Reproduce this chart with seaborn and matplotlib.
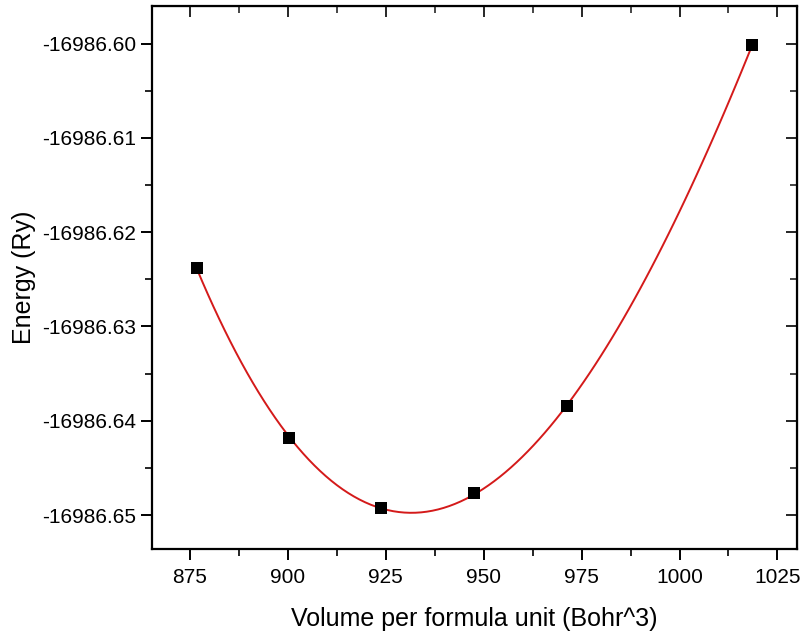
import numpy as np
import pandas as pd
import matplotlib
matplotlib.use("Agg")
import matplotlib.pyplot as plt
import seaborn as sns
from matplotlib.ticker import MultipleLocator, FormatStrFormatter

# values
volume = [876.7, 900.4, 923.9, 947.6, 971.3, 1018.6]
energy = [-16986.6238, -16986.6418, -16986.6493, -16986.6477, -16986.6384, -16986.6001]

x_ticks = [875, 900, 925, 950, 975, 1000, 1025]
y_ticks = [-16986.65, -16986.64, -16986.63, -16986.62, -16986.61, -16986.60]

df = pd.DataFrame({"volume": volume, "energy": energy})

sns.set_style("ticks")
plt.rcParams["font.family"] = ["Liberation Sans", "DejaVu Sans"]
plt.rcParams["text.color"] = "black"
plt.rcParams["axes.labelcolor"] = "black"

fig = plt.figure(figsize=(8.02, 6.42), dpi=100)
ax = fig.add_axes([0.1895, 0.1449, 0.8043, 0.8458])

# fitted curve (cubic fit of E(V)) and the computed points
sns.regplot(data=df, x="volume", y="energy", order=3, ci=None, scatter=False,
            line_kws={"color": "#d41a1a", "lw": 1.4}, ax=ax)
sns.scatterplot(data=df, x="volume", y="energy", marker="s", s=70,
                color="black", edgecolor="black", linewidth=0, zorder=3, ax=ax)

ax.set_xlim(865.3, 1030)
ax.set_ylim(-16986.6536, -16986.5960)
ax.set_xticks(x_ticks)
ax.set_yticks(y_ticks)
ax.xaxis.set_minor_locator(MultipleLocator(12.5))
ax.yaxis.set_minor_locator(MultipleLocator(0.005))
ax.yaxis.set_major_formatter(FormatStrFormatter("%.2f"))

for side in ax.spines.values():
    side.set_linewidth(1.6)
    side.set_color("black")

ax.tick_params(which="major", direction="out", length=8, width=1.4, labelsize=15,
               colors="black", labelcolor="black")
ax.tick_params(axis="x", which="major", pad=6)
ax.tick_params(which="minor", direction="out", length=5, width=1.2, colors="black")

# mirrored ticks on top and right, pointing inside
top = ax.secondary_xaxis("top")
top.set_xticks(x_ticks)
top.xaxis.set_minor_locator(MultipleLocator(12.5))
top.tick_params(which="major", direction="in", length=8, width=1.4, labeltop=False)
top.tick_params(which="minor", direction="in", length=5, width=1.2)
right = ax.secondary_yaxis("right")
right.set_yticks(y_ticks)
right.yaxis.set_minor_locator(MultipleLocator(0.005))
right.tick_params(which="major", direction="in", length=8, width=1.4, labelright=False)
right.tick_params(which="minor", direction="in", length=5, width=1.2)

ax.set_xlabel("Volume per formula unit (Bohr^3)", fontsize=18, labelpad=14)
ax.set_ylabel("Energy (Ry)", fontsize=18, labelpad=4)

fig.savefig("out.png", dpi=100)
